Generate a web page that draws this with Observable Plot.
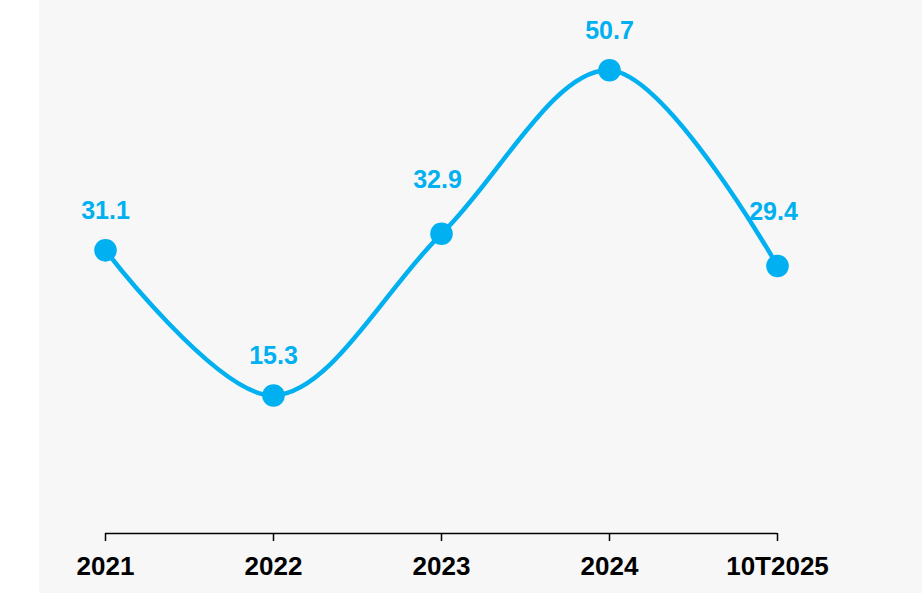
<!DOCTYPE html>
<html>
<head>
<meta charset="utf-8">
<script src="https://cdn.jsdelivr.net/npm/d3@7"></script>
<script src="https://cdn.jsdelivr.net/npm/@observablehq/plot@0.6"></script>
<style>
  html, body { margin: 0; padding: 0; background: #fff; }
</style>
</head>
<body>
<div id="chart"></div>
<script>
const categories = ["2021", "2022", "2023", "2024", "10T2025"];
const values = [31.1, 15.3, 32.9, 50.7, 29.4];
const labels = ["31.1", "15.3", "32.9", "50.7", "29.4"];
// labels placed higher where the line rises into them
const raisedLabel = [false, false, true, false, true];

const data = categories.map((c, i) => ({cat: c, value: values[i], label: labels[i], raised: raisedLabel[i]}));
const blue = "#00b0f0";
const font = "Liberation Sans, Arial, sans-serif";

const chart = Plot.plot({
  width: 922,
  height: 593,
  marginLeft: 103,
  marginRight: 144,
  marginTop: 0,
  marginBottom: 57.5,
  style: {
    background: "linear-gradient(to right, #ffffff 39px, #f7f7f7 39px)",
    fontFamily: font
  },
  x: {type: "point", domain: categories, padding: 0},
  y: {domain: [0, 58.3], axis: null},
  marks: [
    Plot.ruleY([0], {x1: () => categories[0], x2: () => categories[categories.length - 1], stroke: "#000", strokeWidth: 1.5, dy: -2.5}),
    Plot.axisX({tickSize: 8, tickPadding: 15, dy: -2.5, fontSize: 26, fontWeight: "bold", fill: "#000", stroke: "#000", strokeWidth: 1.5, strokeOpacity: 1, label: null, tickFormat: d => d}),
    Plot.line(data, {x: "cat", y: "value", stroke: blue, strokeWidth: 4.5, curve: "catmull-rom"}),
    Plot.dot(data, {x: "cat", y: "value", r: 11.3, fill: blue, stroke: null}),
    Plot.text(data.filter(d => !d.raised), {x: "cat", y: "value", text: "label", dy: -39, fill: blue, fontSize: 25, fontWeight: "bold", textAnchor: "middle", lineAnchor: "middle"}),
    Plot.text(data.filter(d => d.raised), {x: "cat", y: "value", text: "label", dy: -54, dx: -4, fill: blue, fontSize: 25, fontWeight: "bold", textAnchor: "middle", lineAnchor: "middle"})
  ]
});
document.getElementById("chart").appendChild(chart);
</script>
</body>
</html>
